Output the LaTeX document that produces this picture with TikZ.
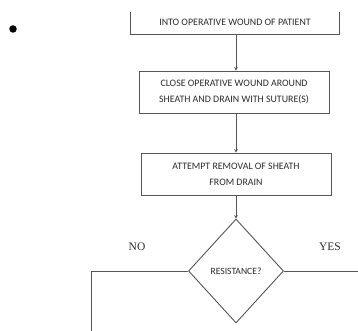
\documentclass[tikz,border=0pt]{standalone}
\usepackage{fontspec}
\setmainfont{Carlito}
\newfontfamily\serifl{Liberation Serif}
\usetikzlibrary{shapes.geometric,arrows.meta}
\definecolor{linec}{HTML}{555555}
\definecolor{textc}{HTML}{2A2A2A}
\begin{document}
\begin{tikzpicture}[x=1pt,y=1pt,
  boxtext/.style={text=textc,font=\fontsize{9.9}{16}\selectfont,align=center,inner sep=0pt},
  stepbox/.style={boxtext,draw=linec,line width=0.9pt,minimum width=190pt,minimum height=42pt},
  decision/.style={boxtext,diamond,draw=linec,line width=0.9pt,minimum width=95pt,minimum height=104pt,font=\fontsize{9.6}{10}\selectfont},
  flow/.style={draw=linec,line width=0.9pt,-{Stealth[length=3.5pt,width=3.5pt]}},
  plainline/.style={draw=linec,line width=0.9pt},
  lbl/.style={text=textc,font=\serifl\fontsize{11.5}{12}\selectfont,inner sep=0pt}]
\useasboundingbox (0,0) rectangle (358,-331);
\node[circle,fill=black,inner sep=0pt,minimum size=7.5pt] (bul) at (13,-29) {};
\node[boxtext,minimum width=208pt,minimum height=22pt] (b1) at (235,-23) {\raisebox{1.5pt}{INTO OPERATIVE WOUND OF PATIENT}};
\draw[plainline] (b1.north west) -- (b1.south west) -- (b1.south east) -- (b1.north east);
\node[stepbox] (b2) at (234,-92) {CLOSE OPERATIVE WOUND AROUND\\SHEATH AND DRAIN WITH SUTURE(S)};
\node[stepbox] (b3) at (236,-174) {ATTEMPT REMOVAL OF SHEATH\\FROM DRAIN};
\node[decision] (d) at (236,-271) {RESISTANCE?};
\node[lbl] (no) at (137,-247) {NO};
\node[lbl] (yes) at (330,-247) {YES};
\coordinate (noend) at (91,-331);
\coordinate (yesend) at (358,-271);
\draw[flow] (d.north |- b1.south) -- (d.north |- b2.north);
\draw[flow] (d.north |- b2.south) -- (d.north |- b3.north);
\draw[flow] (b3.south -| d.north) -- (d.north);
\draw[plainline] (d.west) -| (noend);
\draw[plainline] (d.east) -- (yesend);
\end{tikzpicture}
\end{document}
